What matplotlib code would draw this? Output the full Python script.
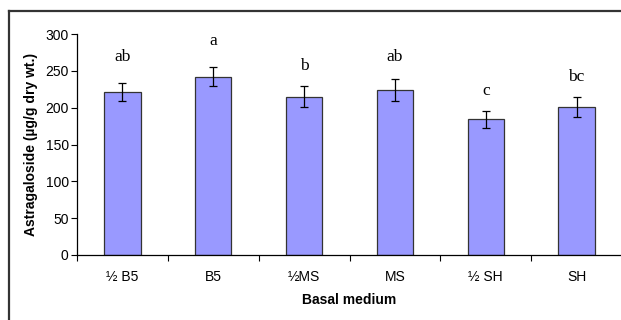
import matplotlib
matplotlib.use('Agg')
import matplotlib.pyplot as plt
from matplotlib.lines import Line2D

media = ['½ B5', 'B5', '½MS', 'MS', '½ SH', 'SH']
astragaloside = [221, 242, 215, 224, 184, 201]
errors = [12, 13, 14, 15, 11, 14]
letters = ['ab', 'a', 'b', 'ab', 'c', 'bc']
letter_y = [269, 291, 257, 269, 222, 242]

fig = plt.figure(figsize=(6.21, 3.2), dpi=100)
fig.patch.set_facecolor('white')

# outer frame (only left and top edges are visible in the image)
fig.add_artist(Line2D([9/621, 9/621], [0.0, 1 - 11/320],
                      transform=fig.transFigure, color='#333333', lw=1.6))
fig.add_artist(Line2D([9/621, 1.0], [1 - 11/320, 1 - 11/320],
                      transform=fig.transFigure, color='#333333', lw=1.6))

ax = fig.add_axes([77/621, 1 - 255/320, 545/621, 221/320])
x = range(len(media))
ax.bar(x, astragaloside, width=0.4, color='#9999ff', edgecolor='#333333', linewidth=0.9,
       yerr=errors, error_kw=dict(ecolor='black', elinewidth=0.9, capsize=3, capthick=0.9))

for i, (lab, ly) in enumerate(zip(letters, letter_y)):
    ax.text(i, ly, lab, ha='center', va='center', fontsize=12.5,
            family='Liberation Serif')

ax.set_xlim(-0.5, len(media) - 0.5)
ax.set_ylim(0, 300)
ax.set_yticks(range(0, 301, 50))
ax.set_xticks([i + 0.5 for i in range(-1, len(media) - 1)])
ax.set_xticklabels([])
ax.set_xticks(list(x), minor=True)
ax.set_xticklabels(media, minor=True, family='Liberation Sans', fontsize=10)
ax.tick_params(axis='x', which='minor', length=0, pad=11)
ax.tick_params(axis='x', which='major', length=4, direction='out', width=0.8)
ax.tick_params(axis='y', length=4, direction='out', width=0.8, pad=2)
for t in ax.get_yticklabels():
    t.set_family('Liberation Sans')
    t.set_fontsize(10)

for s in ['top', 'right']:
    ax.spines[s].set_visible(False)
ax.spines['left'].set_linewidth(0.9)
ax.spines['bottom'].set_linewidth(0.9)

ax.set_ylabel('Astragaloside (µg/g dry wt.)', family='Liberation Sans', fontweight='bold',
              fontsize=10, labelpad=5)
ax.set_xlabel('Basal medium', family='Liberation Sans', fontweight='bold', fontsize=10,
              labelpad=6)

fig.savefig('out.png', dpi=100)
